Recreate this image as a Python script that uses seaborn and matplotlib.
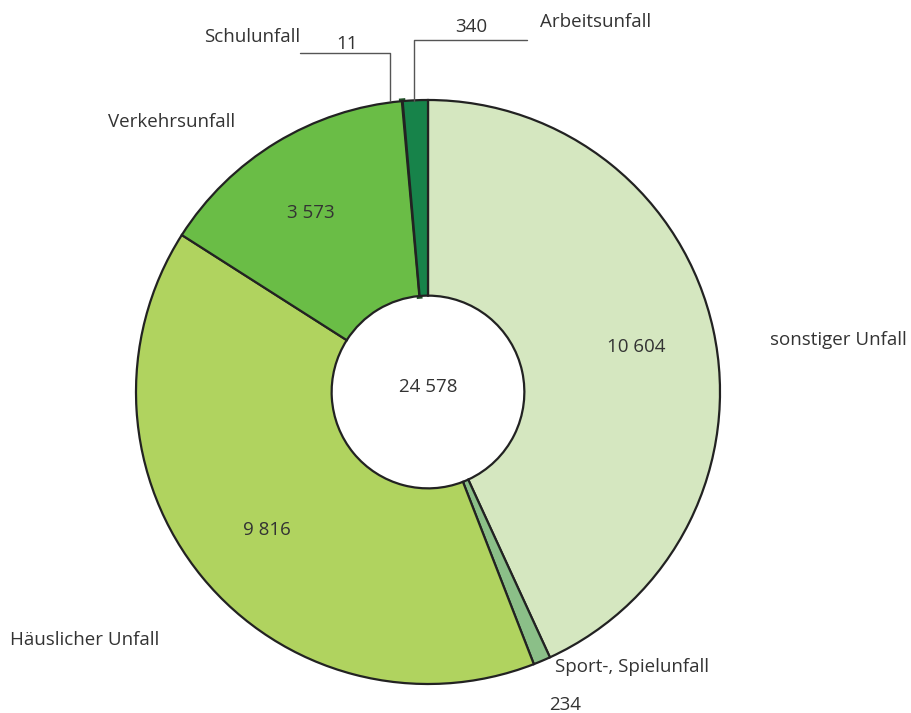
import matplotlib
matplotlib.use("Agg")
import matplotlib.pyplot as plt
import seaborn as sns

# Unfallarten (Reihenfolge im Uhrzeigersinn ab 12 Uhr)
categories = ['sonstiger Unfall', 'Sport-, Spielunfall', 'Häuslicher Unfall',
              'Verkehrsunfall', 'Schulunfall', 'Arbeitsunfall']
values = [10604, 234, 9816, 3573, 11, 340]
value_labels = ['10 604', '234', '9 816', '3 573', '11', '340']
total_label = '24 578'

colors = ['#d5e7c0', '#8bbf88', '#b0d35f', '#6abd46', '#1f4e26', '#17834a']

sns.set_style('white')
plt.rcParams['font.family'] = ['Open Sans', 'DejaVu Sans']
text_color = '#333333'
fs = 13.5

fig = plt.figure(figsize=(9.12, 7.13), dpi=100)
ax = fig.add_axes([0, 0, 1, 1])

# center at pixel (428, 392), outer radius ~292 px
cx, cy, r = 428, 392, 292

def px(x, y):
    return (x - cx) / r, (cy - y) / r

ax.pie(values, colors=colors, startangle=90, counterclock=False,
       radius=1.0,
       wedgeprops=dict(width=0.67, edgecolor='#222222', linewidth=1.6))
ax.set_aspect('auto')
ax.set_xlim(-cx / r, (912 - cx) / r)
ax.set_ylim(-(713 - cy) / r, cy / r)
ax.axis('off')

# tiny Schulunfall wedge drawn with dark edge so it stays visible
wedges = ax.patches
wedges[4].set_edgecolor('#1f4e26')
wedges[4].set_linewidth(4)
wedges[4].set_zorder(0.5)

# category labels
cat_pos = {
    'sonstiger Unfall': (770, 340),
    'Sport-, Spielunfall': (555, 667),
    'Häuslicher Unfall': (10, 640),
    'Verkehrsunfall': (108, 122),
    'Schulunfall': (204, 37),
    'Arbeitsunfall': (540, 22),
}
for cat in categories:
    x, y = px(*cat_pos[cat])
    ax.text(x, y, cat, ha='left', va='center', fontsize=fs, color=text_color)

# value labels
val_pos = [(636, 347), (565, 705), (267, 530), (311, 213), (347, 44), (471, 27)]
for lab, (vx, vy) in zip(value_labels, val_pos):
    x, y = px(vx, vy)
    ax.text(x, y, lab, ha='center', va='center', fontsize=fs, color=text_color)

x, y = px(428, 387)
ax.text(x, y, total_label, ha='center', va='center', fontsize=fs, color=text_color)

# leader lines for the small slices
line_kw = dict(color='#555555', linewidth=1)
pts = [px(300, 53), px(390, 53), px(390, 101)]
ax.plot([p[0] for p in pts], [p[1] for p in pts], **line_kw)
pts = [px(414, 101), px(414, 40), px(527, 40)]
ax.plot([p[0] for p in pts], [p[1] for p in pts], **line_kw)

fig.savefig('out.png', dpi=100, facecolor='white')
